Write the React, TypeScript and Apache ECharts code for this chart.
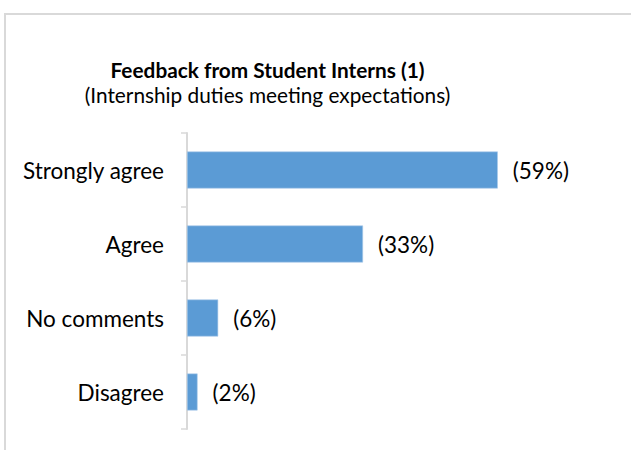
import React, { useEffect, useRef } from "react";
import * as echarts from "echarts";

const categories = ["Strongly agree", "Agree", "No comments", "Disagree"];
const values = [58.8, 33.3, 5.9, 2.0];
const titleText = "Feedback from Student Interns (1)";
const subtitleText = "(Internship duties meeting expectations)";

const FONT = "Lato";

export default function App() {
  const ref = useRef<HTMLDivElement>(null);
  useEffect(() => {
    if (!ref.current) return;
    const chart = echarts.init(ref.current, undefined, { renderer: "svg" });
    chart.setOption({
      animation: false,
      backgroundColor: "#ffffff",
      grid: { left: 187, right: 74, top: 133, bottom: 21, containLabel: false },
      xAxis: {
        type: "value",
        min: 0,
        max: 70,
        show: false,
      },
      yAxis: {
        type: "category",
        data: categories,
        inverse: true,
        axisLine: { show: true, lineStyle: { color: "#d9d9d9", width: 2 } },
        axisTick: { show: true, length: 6, lineStyle: { color: "#d9d9d9", width: 1.5 } },
        axisLabel: {
          margin: 23,
          fontFamily: FONT,
          fontSize: 22.5,
          color: "#000000",
        },
        splitLine: { show: false },
      },
      series: [
        {
          type: "bar",
          data: values,
          barWidth: 37,
          itemStyle: { color: "#5b9bd5", borderColor: "#a9c9ea", borderWidth: 0.6 },
          label: {
            show: true,
            position: "right",
            distance: 15,
            fontFamily: FONT,
            fontSize: 22.5,
            color: "#000000",
            formatter: (p: any) => "(" + Math.round(p.value) + "%)",
          },
        },
      ],
      graphic: [
        {
          type: "rect",
          shape: { x: 5, y: 14, width: 700, height: 500 },
          style: { fill: "none", stroke: "#d9d9d9", lineWidth: 2 },
          silent: true,
        },
        {
          type: "text",
          x: 267.5,
          y: 69,
          style: {
            text: titleText,
            align: "center",
            verticalAlign: "middle",
            font: `bold 20.8px ${FONT}`,
            fill: "#000000",
          },
        },
        {
          type: "text",
          x: 267.5,
          y: 94,
          style: {
            text: subtitleText,
            align: "center",
            verticalAlign: "middle",
            font: `20.8px ${FONT}`,
            fill: "#000000",
          },
        },
      ],
    });
    return () => chart.dispose();
  }, []);
  return (
    <div
      ref={ref}
      style={{ position: "fixed", left: 0, top: 0, width: 631, height: 450 }}
    />
  );
}
